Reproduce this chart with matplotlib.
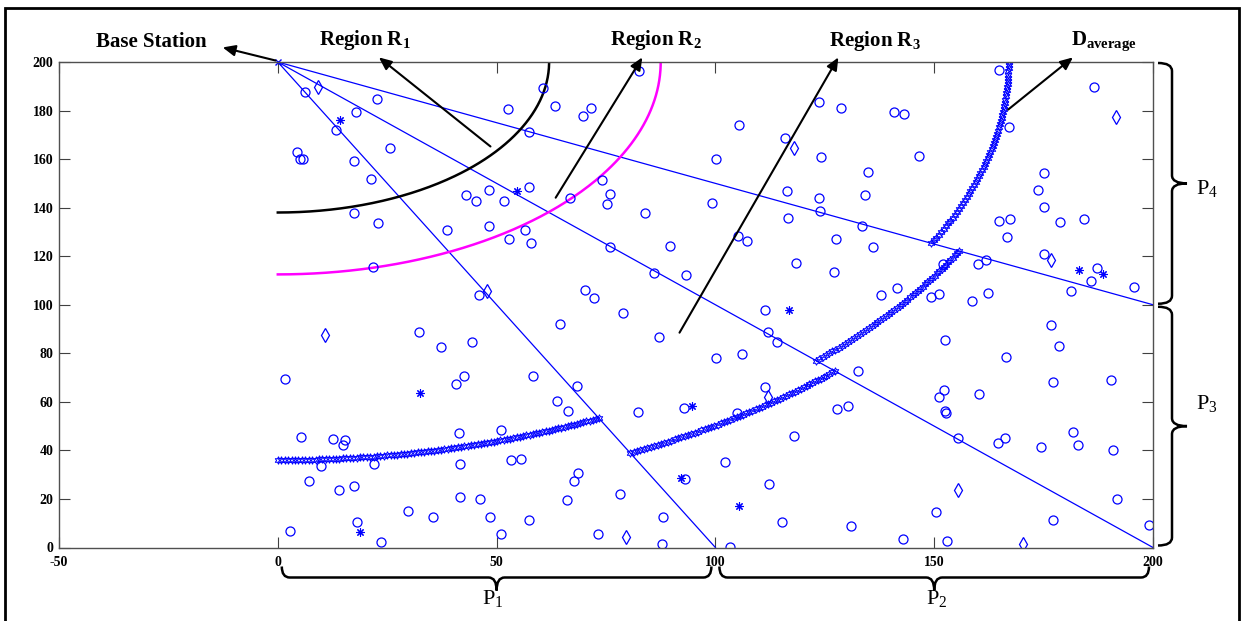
import numpy as np
import matplotlib.pyplot as plt
from matplotlib.patches import Rectangle, PathPatch
from matplotlib.path import Path
from matplotlib.transforms import IdentityTransform

plt.rcParams['font.family'] = ['Liberation Serif', 'DejaVu Serif']
plt.rcParams['mathtext.fontset'] = 'custom'
plt.rcParams['mathtext.rm'] = 'Liberation Serif'
plt.rcParams['mathtext.bf'] = 'Liberation Serif:bold'
plt.rcParams['mathtext.it'] = 'Liberation Serif:italic'
plt.rcParams['axes.unicode_minus'] = False

# base station sits at the top-left corner of the field
bs_x, bs_y = 0, 200
# far ends of the partition lines drawn from the base station
part_x = [100, 200, 200]
part_y = [0, 0, 100]

# region boundaries (radius from the base station)
r_region1 = 62
r_region2 = 87.5

# average node distance in partitions P1..P4
d_avg = [164, 180, 174, 167]

# sensor nodes, normal
circ_x = [6.2, 22.6, 17.9, 13.2, 25.6, 4.4, 5.1, 5.8, 17.4, 21.4, 17.3,
          60.7, 52.5, 63.4, 69.8, 71.5, 82.5, 57.3, 105.5, 116, 100.2, 116.4, 99.2,
          74.1, 75.9, 75.3, 83.9, 66.7, 57.3, 48.2, 43, 45.3, 51.6, 116.6,
          164.9, 186.6, 167.1, 123.7, 128.7, 140.7, 143.2, 124.2, 146.6, 134.9,
          134.1, 123.6, 124, 175, 173.7, 175,
          22.8, 38.7, 48.3, 52.8, 56.6, 57.8, 75.9, 86, 89.7, 21.7, 46, 70.2, 72.3,
          78.9, 64.6, 87.2, 32.3, 37.2, 44.3, 1.6, 42.5, 40.8, 58.4, 68.3,
          63.8, 66.4, 82.4, 5.2, 12.5, 15.4, 14.8, 41.3, 50.9, 9.9, 22, 41.7, 53.4,
          55.6, 7.1, 13.9, 17.5, 41.7, 46.1, 68.7, 67.6, 66, 78.2, 29.7, 35.5, 48.6,
          57.5, 18, 2.7, 23.6, 50.9, 73.1, 88.1, 87.9,
          111.4, 92.8, 93, 105, 118, 102.1, 112.2, 115.3, 103.3, 131.1, 127.9, 130.3,
          151.1, 152.2, 152.4, 152.6, 160.2, 155.5, 177.2, 190.3, 164.5, 166.2,
          174.3, 181.7, 182.9, 190.9, 150.5, 142.8, 152.9, 177.1, 191.7, 199.2,
          133.6, 105.2, 107.2, 127.5, 136, 118.5, 127.2, 93.3, 137.9, 141.6, 149.3,
          151.2, 152.1, 160, 161.8, 158.6, 162.3, 164.7, 167.3, 166.7, 178.8, 184.2,
          175.2, 187.1, 185.9, 181.2, 195.6, 111.4, 176.6, 178.5, 152.4, 166.5,
          112.1, 114, 100.2, 106.1, 132.6]
circ_y = [187.7, 184.7, 179.5, 172, 164.7, 162.8, 159.9, 159.9, 159.3, 151.8, 137.8,
          189.4, 180.7, 181.8, 177.9, 181.1, 196.2, 171.2, 173.9, 168.6, 160.1, 146.7, 142.1,
          151.4, 145.6, 141.6, 137.8, 143.8, 148.5, 147.4, 145.4, 142.9, 142.9, 135.7,
          196.8, 189.6, 173.3, 183.4, 181.1, 179.5, 178.4, 160.7, 161.2, 154.6,
          145.4, 143.8, 138.8, 154.1, 147.4, 140.1,
          133.5, 130.6, 132.3, 127.2, 130.6, 125.3, 123.6, 113.2, 124, 115.4, 104.1, 106.2, 102.6,
          96.7, 92, 86.9, 88.9, 82.7, 84.6, 69.4, 70.6, 67.4, 70.8, 66.6,
          60.3, 56.4, 55.8, 45.4, 44.6, 44.3, 42.3, 47.1, 48.2, 33.6, 34.2, 34.6, 36.1,
          36.5, 27.5, 23.7, 25.2, 20.9, 20.1, 30.7, 27.3, 19.5, 22.1, 15.1, 12.5, 12.7,
          11.2, 10.4, 6.8, 2.4, 5.4, 5.4, 12.7, 1.4,
          66.3, 57.4, 28.3, 55.4, 46, 35.4, 26, 10.3, 0.4, 8.8, 56.9, 58.1,
          62, 64.7, 56.1, 55.6, 63.2, 45.1, 68, 69.1, 43.1, 45.2,
          41.6, 47.5, 42.4, 40.1, 14.7, 3.4, 2.5, 11.3, 19.9, 9.2,
          132.5, 128.2, 126.2, 127, 123.8, 117, 113.3, 112.2, 104, 106.7, 103.2,
          104.3, 116.7, 116.8, 118.4, 101.6, 105, 134.4, 135.5, 127.8, 134, 135.3,
          120.8, 115.2, 109.8, 105.6, 107.5, 98, 91.8, 82.9, 85.6, 78.6,
          88.7, 84.8, 78.2, 79.7, 72.7]

# advanced nodes
diam_x = [9.2, 117.9, 191.6, 47.7, 10.9, 79.5, 155.4, 170.4, 112, 176.6]
diam_y = [189.8, 164.6, 177.4, 105.5, 87.6, 4.5, 23.8, 1.6, 61.8, 118.6]

# super nodes
ast_x = [14.1, 54.7, 32.6, 18.7, 94.7, 92.2, 105.3, 183.1, 188.5, 116.8]
ast_y = [176, 147, 63.6, 6.3, 58.1, 28.5, 16.9, 114.2, 112.6, 97.7]

blue = '#0000ff'

fig = plt.figure(figsize=(12.45, 6.21), dpi=100)
ax = fig.add_axes([59 / 1245, 1 - 547.5 / 621, 1094 / 1245, 485.5 / 621])
ax.set_xlim(-50, 200)
ax.set_ylim(0, 200)
ax.set_xticks([-50, 0, 50, 100, 150, 200])
ax.set_yticks(np.arange(0, 201, 20))
ax.tick_params(direction='in', length=8, width=0.8, top=True, right=True,
               labelsize=10, color='#404040', pad=4)
ax.tick_params(axis='x', pad=6)
for lab in ax.get_xticklabels() + ax.get_yticklabels():
    lab.set_fontweight('bold')
for sp in ax.spines.values():
    sp.set_color('#505050')
    sp.set_linewidth(1)

# partition lines
for ex, ey in zip(part_x, part_y):
    ax.plot([bs_x, ex], [bs_y, ey], color=blue, lw=0.9)

# region boundaries
th = np.linspace(0, np.pi / 2, 200)
ax.plot(bs_x + r_region1 * np.sin(th), bs_y - r_region1 * np.cos(th), color='k', lw=1.8)
ax.plot(bs_x + r_region2 * np.sin(th), bs_y - r_region2 * np.cos(th), color='#ff00ff', lw=1.8)

# average distance arc inside each partition, stars about 3.3 px apart on screen
angles = [0.0] + [np.arctan2(ex - bs_x, bs_y - ey) for ex, ey in zip(part_x, part_y)] + [np.pi / 2]
for i, r in enumerate(d_avg):
    t = np.linspace(angles[i], angles[i + 1], 400)
    xy = ax.transData.transform(np.column_stack([bs_x + r * np.sin(t), bs_y - r * np.cos(t)]))
    length = np.sum(np.hypot(*np.diff(xy, axis=0).T))
    t = np.linspace(angles[i], angles[i + 1], int(length / 3.3))
    ax.plot(bs_x + r * np.sin(t), bs_y - r * np.cos(t), ls='none', marker=(6, 1, 0),
            ms=5.5, mfc='none', mec=blue, mew=0.7)

# nodes
ax.plot(circ_x, circ_y, ls='none', marker='o', ms=6.5, mfc='none', mec=blue, mew=0.9)
ax.plot(diam_x, diam_y, ls='none', marker='d', ms=7, mfc='none', mec=blue, mew=0.9)
ax.plot(ast_x, ast_y, ls='none', marker=(8, 2, 0), ms=6, mec=blue, mew=0.8)
ax.plot([bs_x], [bs_y], ls='none', marker='x', ms=5, mec=blue, mew=1, clip_on=False)

# labels and arrows above the field
arrow = dict(arrowstyle='-|>,head_length=0.5,head_width=0.22', color='k', lw=1.5,
             mutation_scale=15, shrinkA=0, shrinkB=0)
ax.annotate('', xy=(-12.6, 206), xytext=(-0.5, 200.6), arrowprops=arrow, annotation_clip=False)
ax.annotate('', xy=(23.1, 201.9), xytext=(48.6, 165.2), arrowprops=arrow, annotation_clip=False)
ax.annotate('', xy=(83.3, 201.9), xytext=(63.5, 144.1), arrowprops=arrow, annotation_clip=False)
ax.annotate('', xy=(128.1, 201.9), xytext=(91.8, 88.5), arrowprops=arrow, annotation_clip=False)
ax.annotate('', xy=(181.7, 201.9), xytext=(166.9, 180.4), arrowprops=arrow, annotation_clip=False)

tkw = dict(fontsize=15, fontweight='bold', va='baseline', clip_on=False)
ax.text(-28.9, 206, 'Base Station', ha='center', **tkw)
ax.text(19.9, 207, r'Region $\mathbf{R_1}$', ha='center', **tkw)
ax.text(86.4, 207, r'Region $\mathbf{R_2}$', ha='center', **tkw)
ax.text(136.4, 206.5, r'Region $\mathbf{R_3}$', ha='center', **tkw)
ax.text(181.3, 206.8, r'$\mathbf{D_{average}}$', ha='left', **tkw)


def brace(p0, p1, side, gap, arm, tip, inset=4, rad=8):
    # curly brace drawn in display pixels, outside the axes
    a = ax.transData.transform(p0)
    b = ax.transData.transform(p1)
    if side == 'bottom':
        s0, s1, base = a[0] + inset, b[0] - inset, a[1] - gap
    else:
        s0, s1, base = a[1] - inset, b[1] + inset, a[0] + gap
    sgn = 1 if s1 > s0 else -1
    m = (s0 + s1) / 2
    pts = [(s0, 0), (s0, arm), (s0 + sgn * rad, arm), (m - sgn * rad, arm),
           (m, arm), (m, arm + tip), (m, arm), (m + sgn * rad, arm),
           (s1 - sgn * rad, arm), (s1, arm), (s1, 0)]
    codes = [Path.MOVETO, Path.CURVE3, Path.CURVE3, Path.LINETO,
             Path.CURVE3, Path.CURVE3, Path.CURVE3, Path.CURVE3,
             Path.LINETO, Path.CURVE3, Path.CURVE3]
    if side == 'bottom':
        verts = [(s, base - h) for s, h in pts]
    else:
        verts = [(base + h, s) for s, h in pts]
    fig.add_artist(PathPatch(Path(verts, codes), transform=IdentityTransform(),
                             fill=False, lw=1.8, ec='k', clip_on=False))


brace((0, 0), (100, 0), 'bottom', 19, 11, 13)
brace((100, 0), (200, 0), 'bottom', 19, 11, 13)
brace((200, 200), (200, 100), 'right', 5, 14, 15, inset=1)
brace((200, 100), (200, 0), 'right', 5, 14, 15, inset=2)

pkw = dict(fontsize=16, va='baseline', clip_on=False)
ax.text(49.2, -23.3, r'$\mathrm{P_1}$', ha='center', **pkw)
ax.text(150.5, -23.3, r'$\mathrm{P_2}$', ha='center', **pkw)
ax.text(209.8, 145.8, r'$\mathrm{P_4}$', ha='left', **pkw)
ax.text(209.8, 57.1, r'$\mathrm{P_3}$', ha='left', **pkw)

# frame around the whole figure
fig.add_artist(Rectangle((5 / 1245, -0.1), 1234 / 1245, 1.1 - 8 / 621,
                         transform=fig.transFigure, fill=False, lw=2, ec='k'))

fig.savefig('out.png', dpi=100)
